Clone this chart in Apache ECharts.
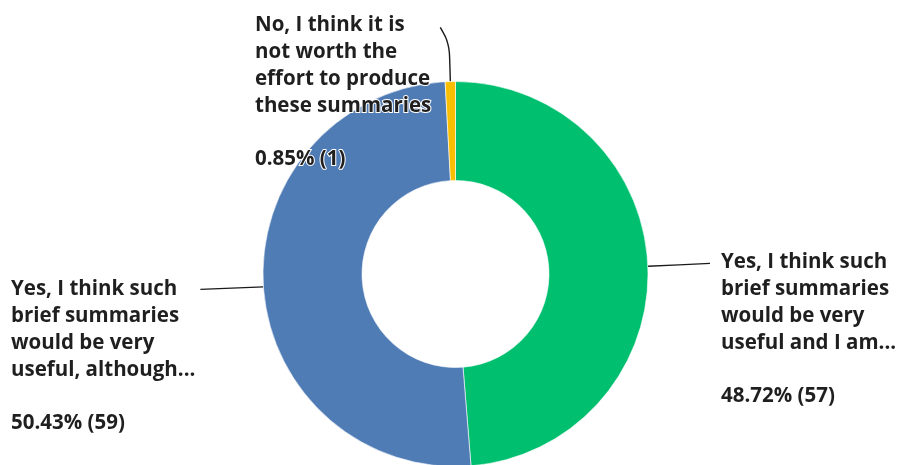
<!DOCTYPE html>
<html>
<head>
<meta charset="utf-8">
<script src="https://cdn.jsdelivr.net/npm/echarts@6/dist/echarts.min.js"></script>
<style>
  html, body { margin: 0; padding: 0; background: #fff; }
  #chart { width: 898px; height: 465px; }
</style>
</head>
<body>
<div id="chart"></div>
<script>
// Answer options (wrapped as shown on the chart), response counts and slice colours
const categories = [
  'Yes, I think such\nbrief summaries\nwould be very\nuseful and I am...',
  'Yes, I think such\nbrief summaries\nwould be very\nuseful, although...',
  'No, I think it is\nnot worth the\neffort to produce\nthese summaries'
];
const counts = [57, 59, 1];
const colors = ['#00BF6F', '#507CB6', '#F9BE00'];

const FONT = '"Open Sans"';
const FONT_SIZE = 20.5;
const LINE_H = 26.8;

// Where each label block sits (left edge, top edge) and on which side its leader attaches
const labelSpots = [
  { x: 721, y: 249, side: 'right' },
  { x: 11,  y: 276, side: 'left' },
  { x: 255, y: 12,  side: 'top' }
];

const chart = echarts.init(document.getElementById('chart'));

chart.setOption({
  animation: false,
  backgroundColor: '#fff',
  series: [{
    type: 'pie',
    center: [455.5, 274],
    radius: [93.5, 192.5],
    startAngle: 90,
    clockwise: true,
    avoidLabelOverlap: false,
    percentPrecision: 2,
    emphasis: { disabled: true },
    itemStyle: { borderColor: '#fff', borderWidth: 0.6 },
    label: {
      show: true,
      position: 'outside',
      formatter: '{b}\n\n{d}% ({c})',
      fontFamily: FONT,
      fontSize: FONT_SIZE,
      fontWeight: 'bold',
      lineHeight: LINE_H,
      color: '#1f1f1f',
      textBorderColor: '#fff',
      textBorderWidth: 2
    },
    labelLine: {
      show: true,
      length: 20,
      length2: 20,
      lineStyle: { color: '#1a1a1a', width: 1.4 }
    },
    labelLayout: function (p) {
      const spot = labelSpots[p.dataIndex];
      const w = p.labelRect.width;
      const start = p.labelLinePoints ? p.labelLinePoints[0] : [0, 0];
      const midY = spot.y + LINE_H / 2;
      let pts;
      if (spot.side === 'right') {
        const end = [spot.x - 11, midY + 1];
        pts = [start, [(start[0] + end[0]) / 2, (start[1] + end[1]) / 2], end];
      } else if (spot.side === 'left') {
        const end = [spot.x + w + 3, midY];
        pts = [start, [(start[0] + end[0]) / 2, (start[1] + end[1]) / 2], end];
      } else {
        const end = [spot.x + w + 7, midY + 2];
        pts = [start, [start[0] - 1, end[1] + 16], end];
      }
      return {
        x: spot.x,
        y: spot.y,
        align: 'left',
        verticalAlign: 'top',
        labelLinePoints: pts
      };
    },
    data: categories.map((name, i) => ({
      name: name,
      value: counts[i],
      itemStyle: { color: colors[i] },
      labelLine: i === 2 ? { smooth: 0.35 } : undefined
    }))
  }]
});
</script>
</body>
</html>
